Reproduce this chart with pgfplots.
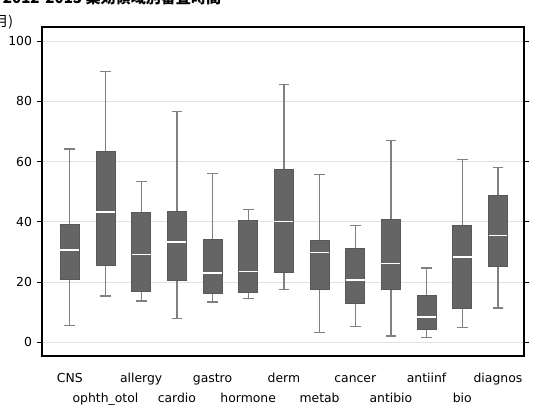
\documentclass[border=0pt]{standalone}
\usepackage{pgfplots}
\pgfplotsset{compat=1.18}
\usepgfplotslibrary{statistics}
\usepackage{fontspec}
\setmainfont{DejaVu Sans}
\newfontfamily\cjk{Noto Sans CJK JP}
\definecolor{boxg}{HTML}{656565}
\definecolor{boxe}{HTML}{5E5656}
\definecolor{whisk}{HTML}{808080}
\definecolor{gridc}{HTML}{E2E2E2}
\begin{document}
\begin{tikzpicture}
\begin{axis}[
  at={(0,0)}, anchor=south west,
  scale only axis, width=361.5pt, height=246.75pt,
  xmin=-0.78, xmax=12.73, ymin=-4.6, ymax=104.7,
  ytick={0,20,...,100},
  ymajorgrids, grid style={gridc, line width=0.6pt},
  axis line style={black, line width=0.9pt},
  ytick pos=both, yticklabel pos=left, tick align=outside,
  ytick style={black, line width=0.6pt}, major tick length=4pt,
  yticklabel style={font=\fontsize{9.3}{10}\selectfont},
  xtick={0,...,12},
  xtick style={draw=none},
  xticklabel style={font=\fontsize{9.3}{10}\selectfont, anchor=north, inner sep=0pt, yshift=-7pt},
  xticklabels={{\rule{0pt}{9pt}CNS},{\rule{0pt}{23.5pt}ophth\_otol},{\rule{0pt}{9pt}allergy},{\rule{0pt}{23.5pt}cardio},{\rule{0pt}{9pt}gastro},{\rule{0pt}{23.5pt}hormone},{\rule{0pt}{9pt}derm},{\rule{0pt}{23.5pt}metab},{\rule{0pt}{9pt}cancer},{\rule{0pt}{23.5pt}antibio},{\rule{0pt}{9pt}antiinf},{\rule{0pt}{23.5pt}bio},{\rule{0pt}{9pt}diagnos}},
  /pgf/number format/assume math mode=true,
  boxplot/draw direction=y,
  boxplot/box extend=0.53,
  boxplot/whisker extend=0.3,
  mybox/.style={fill=boxg, draw=boxe, line width=0.6pt,
    boxplot/every whisker/.style={draw=whisk, line width=1pt},
    boxplot/every median/.style={draw=white, line width=1.1pt}},
]
\addplot[mybox, boxplot prepared={lower whisker=5.6, lower quartile=20.9, median=30.6, upper quartile=39.2, upper whisker=64.2, draw position=0}] coordinates {};
\addplot[mybox, boxplot prepared={lower whisker=15.3, lower quartile=25.4, median=43.2, upper quartile=63.5, upper whisker=90.0, draw position=1}] coordinates {};
\addplot[mybox, boxplot prepared={lower whisker=13.7, lower quartile=16.9, median=29.1, upper quartile=43.2, upper whisker=53.3, draw position=2}] coordinates {};
\addplot[mybox, boxplot prepared={lower whisker=7.8, lower quartile=20.5, median=33.2, upper quartile=43.6, upper whisker=76.7, draw position=3}] coordinates {};
\addplot[mybox, boxplot prepared={lower whisker=13.3, lower quartile=16.1, median=23.0, upper quartile=34.3, upper whisker=56.1, draw position=4}] coordinates {};
\addplot[mybox, boxplot prepared={lower whisker=14.6, lower quartile=16.5, median=23.4, upper quartile=40.4, upper whisker=44.0, draw position=5}] coordinates {};
\addplot[mybox, boxplot prepared={lower whisker=17.4, lower quartile=23.3, median=40.0, upper quartile=57.4, upper whisker=85.6, draw position=6}] coordinates {};
\addplot[mybox, boxplot prepared={lower whisker=3.2, lower quartile=17.6, median=29.8, upper quartile=33.8, upper whisker=55.7, draw position=7}] coordinates {};
\addplot[mybox, boxplot prepared={lower whisker=5.3, lower quartile=12.8, median=20.6, upper quartile=31.1, upper whisker=38.8, draw position=8}] coordinates {};
\addplot[mybox, boxplot prepared={lower whisker=2.0, lower quartile=17.6, median=26.2, upper quartile=40.7, upper whisker=67.0, draw position=9}] coordinates {};
\addplot[mybox, boxplot prepared={lower whisker=1.6, lower quartile=4.3, median=8.4, upper quartile=15.7, upper whisker=24.6, draw position=10}] coordinates {};
\addplot[mybox, boxplot prepared={lower whisker=4.9, lower quartile=11.3, median=28.3, upper quartile=38.8, upper whisker=60.6, draw position=11}] coordinates {};
\addplot[mybox, boxplot prepared={lower whisker=11.3, lower quartile=25.3, median=35.5, upper quartile=48.8, upper whisker=58.1, draw position=12}] coordinates {};
\end{axis}
\node[anchor=south west, inner sep=0pt, font=\cjk\bfseries\fontsize{11.3}{13}\selectfont] at (-29.5pt,263.3pt) {2012-2013 薬効領域別審査時間};
\node[anchor=east, inner sep=0pt, font=\cjk\fontsize{10.5}{12}\selectfont] at (-21.5pt,250.5pt) {(月)};
\pgfresetboundingbox
\path[use as bounding box] (-31.5pt,-39pt) rectangle (387.75pt,267pt);
\end{tikzpicture}
\end{document}
